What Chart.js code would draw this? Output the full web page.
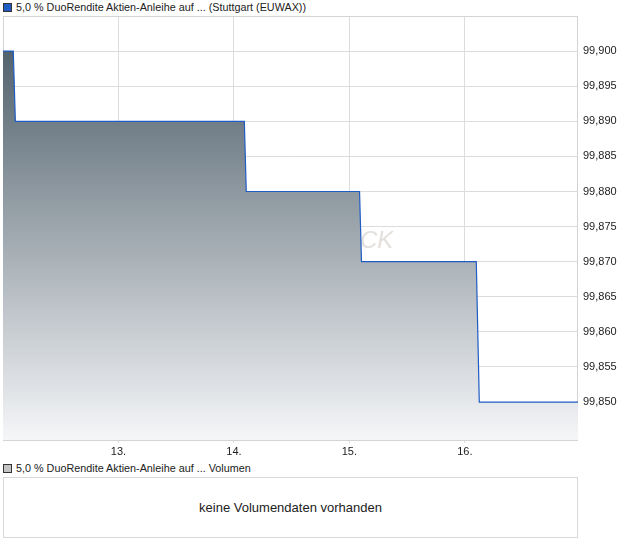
<!DOCTYPE html>
<html>
<head>
<meta charset="utf-8">
<script src="https://cdn.jsdelivr.net/npm/chart.js@4/dist/chart.umd.min.js"></script>
<style>
  html, body { margin: 0; padding: 0; background: #fff; }
  body { width: 620px; height: 546px; position: relative; overflow: hidden;
         font-family: "Liberation Sans", Arial, sans-serif; color: #222; }
  .legend { position: absolute; left: 3px; font-size: 10.8px; line-height: 12px; white-space: nowrap; }
  .sw { display: inline-block; width: 7px; height: 7px; border: 1px solid #333; vertical-align: -1px; margin-right: 4px; }
  #chartWrap { position: absolute; left: 0; top: 0; width: 620px; height: 460px; }
  #volBox { position: absolute; left: 3px; top: 477px; width: 573px; height: 59px;
            border: 1px solid #d8d8d8; background: #fff; font-size: 13px;
            display: flex; align-items: center; justify-content: center; }
</style>
</head>
<body>
<div class="legend" style="top:1px;"><span class="sw" style="background:#1f5cc4;"></span>5,0 % DuoRendite Aktien-Anleihe auf ... (Stuttgart (EUWAX))</div>
<div id="chartWrap"><canvas id="c" width="620" height="460"></canvas></div>
<div class="legend" style="top:462px;"><span class="sw" style="background:#c4c4c4;"></span>5,0 % DuoRendite Aktien-Anleihe auf ... Volumen</div>
<div id="volBox">keine Volumendaten vorhanden</div>
<script>
// ---- data ----
const times  = [12.0, 12.089, 12.107, 14.090, 14.107, 15.088, 15.105, 16.099, 16.125, 16.98];
const prices = [99.900, 99.900, 99.890, 99.890, 99.880, 99.880, 99.870, 99.870, 99.850, 99.850];
const xTickValues = [13, 14, 15, 16];
const xTickLabels = ["13.", "14.", "15.", "16."];
const yTickValues = [99.850, 99.855, 99.860, 99.865, 99.870, 99.875, 99.880, 99.885, 99.890, 99.895, 99.900];
const xMin = 12.0, xMax = 16.98, yMin = 99.8446, yMax = 99.905;

const points = times.map((t, i) => ({ x: t, y: prices[i] }));

const frame = {
  id: 'frame',
  beforeDatasetsDraw(chart) {
    const a = chart.chartArea, ctx = chart.ctx;
    ctx.save();
    ctx.font = 'italic 24px "Liberation Sans", Arial, sans-serif';
    ctx.fillStyle = '#e4e0dd';
    ctx.textBaseline = 'middle';
    ctx.fillText('CK', 360, 241);
    ctx.strokeStyle = '#d4d4d4';
    ctx.lineWidth = 1;
    ctx.strokeRect(a.left + 0.5, a.top + 0.5, a.right - a.left - 1, a.bottom - a.top);
    ctx.restore();
  }
};

new Chart(document.getElementById('c'), {
  type: 'line',
  data: {
    datasets: [{
      data: points,
      borderColor: '#1f5cc4',
      borderWidth: 1.2,
      pointRadius: 0,
      tension: 0,
      fill: 'start',
      backgroundColor(ctx) {
        const a = ctx.chart.chartArea;
        if (!a) return '#8a98a2';
        const g = ctx.chart.ctx.createLinearGradient(0, a.top + 35, 0, a.bottom);
        g.addColorStop(0, '#53636e');
        g.addColorStop(1, '#f5f6f8');
        return g;
      }
    }]
  },
  options: {
    responsive: false,
    animation: false,
    layout: { padding: { top: 16, left: 3, right: 0, bottom: 0 } },
    plugins: { legend: { display: false }, tooltip: { enabled: false } },
    scales: {
      x: {
        type: 'linear',
        min: xMin, max: xMax,
        afterBuildTicks(s) { s.ticks = xTickValues.map(v => ({ value: v })); },
        afterFit(s) { s.height = 20; },
        grid: { color: '#dcdcdc', tickLength: 3, drawOnChartArea: true },
        border: { display: false },
        ticks: {
          padding: 2,
          color: '#222',
          font: { family: '"Liberation Sans", Arial, sans-serif', size: 11 },
          maxRotation: 0,
          callback(v) { const i = xTickValues.indexOf(v); return i >= 0 ? xTickLabels[i] : ''; }
        }
      },
      y: {
        position: 'right',
        min: yMin, max: yMax,
        afterBuildTicks(s) { s.ticks = yTickValues.map(v => ({ value: v })); },
        afterFit(s) { s.width = 42; },
        grid: { color: '#dcdcdc', drawTicks: false },
        border: { display: false },
        ticks: {
          padding: 5,
          color: '#222',
          font: { family: '"Liberation Sans", Arial, sans-serif', size: 11 },
          callback(v) { return v.toFixed(3).replace('.', ','); }
        }
      }
    }
  },
  plugins: [frame]
});
</script>
</body>
</html>
